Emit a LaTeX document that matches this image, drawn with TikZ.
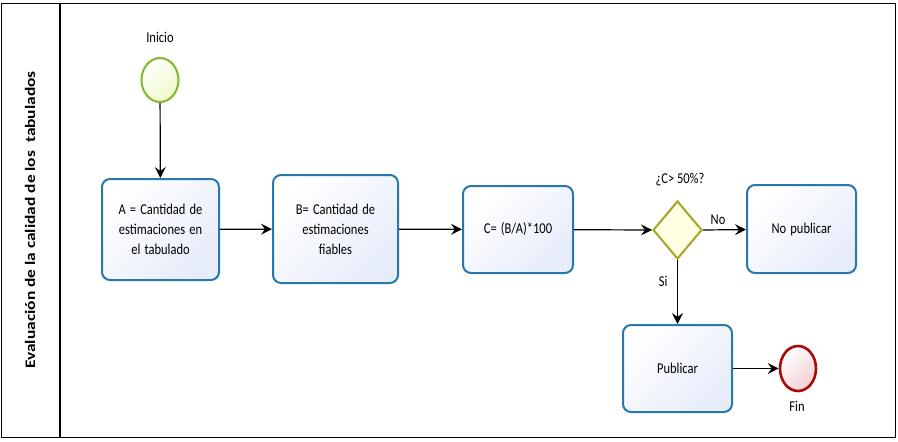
\documentclass[tikz,border=0pt]{standalone}
\usepackage{fontspec}
\setmainfont{Carlito}
\usetikzlibrary{shapes.geometric,arrows.meta}
\definecolor{boxblue}{HTML}{2878AC}
\definecolor{boxfill}{HTML}{E6ECFA}
\definecolor{startgreen}{HTML}{7DBB2C}
\definecolor{startfill}{HTML}{EEF9C8}
\definecolor{endred}{HTML}{A80A0A}
\definecolor{endfill}{HTML}{F2CFD2}
\definecolor{gateolive}{HTML}{A8A424}
\definecolor{gatefill}{HTML}{FFFFE2}
\newcommand{\vs}[1]{\scalebox{1}[1.2]{#1}}
\tikzset{
  task/.style={draw=boxblue, line width=2pt, rounded corners=8pt, align=center,
    left color=white, right color=boxfill, shading angle=45,
    font=\fontsize{12.5}{20}\selectfont, inner sep=2pt},
  startev/.style={ellipse, draw=startgreen, line width=2pt, left color=white, right color=startfill, shading angle=45, inner sep=0pt},
  endev/.style={ellipse, draw=endred, line width=2.6pt, left color=white, right color=endfill, shading angle=45, inner sep=0pt},
  gate/.style={diamond, draw=gateolive, line width=2pt, fill=gatefill, inner sep=0pt},
  flow/.style={draw=black, line width=1.2pt, -{Stealth[length=11pt,width=11pt,inset=4pt]}},
  lbl/.style={font=\fontsize{12.5}{15}\selectfont}
}
\begin{document}
\begin{tikzpicture}[x=1pt,y=-1pt]
\useasboundingbox (0,0) rectangle (898,442);
% pool frame
\draw[line width=1.2pt] (1.5,3.5) rectangle (895.5,437.5);
\draw[line width=1.2pt] (60,3.5) -- (60,437.5);
\node[rotate=90, font=\fontsize{14.5}{16}\selectfont\bfseries] (lane) at (30,220) {\scalebox{1.2}[1]{Evaluación de la calidad de los\ \ tabulados}};
% events and tasks
\node[startev, minimum width=37pt, minimum height=44pt] (start) at (160,80) {};
\node[lbl] (startlbl) at (160,37) {\vs{Inicio}};
\node[task, minimum width=117pt, minimum height=101pt, text width=110pt] (A) at (160.5,229.5) {\vs{A = Cantidad de}\\\vs{estimaciones en}\\\vs{el tabulado}};
\node[task, minimum width=125pt, minimum height=108pt, text width=115pt] (B) at (335.5,229) {\vs{B= Cantidad de}\\\vs{estimaciones}\\\vs{fiables}};
\node[task, minimum width=110pt, minimum height=87pt, text width=100pt] (C) at (518,229.5) {\vs{C= (B/A)*100}};
\node[gate, minimum width=49pt, minimum height=58pt] (G) at (677.5,230) {};
\node[lbl] (glbl) at (680,180) {\vs{¿C> 50\%?}};
\node[task, minimum width=109pt, minimum height=88pt, text width=100pt] (NP) at (801.5,229) {\vs{No publicar}};
\node[task, minimum width=109pt, minimum height=87pt, text width=100pt] (P) at (677.5,368.5) {\vs{Publicar}};
\node[endev, minimum width=36pt, minimum height=45pt] (end) at (798,368.5) {};
\node[lbl] (endlbl) at (797,406) {\vs{Fin}};
% flows
\draw[flow] (start) -- (A);
\draw[flow] (A) -- (B);
\draw[flow] (B) -- (C);
\draw[flow] (C) -- (G.west);
\draw[flow] (G.east) -- node[lbl, above, pos=0.35, yshift=1pt] {\vs{No}} (NP);
\draw[flow] (G.south) -- node[lbl, left, pos=0.33, xshift=-6pt] {\vs{Si}} (P);
\draw[flow] (P) -- (end);
\end{tikzpicture}
\end{document}
